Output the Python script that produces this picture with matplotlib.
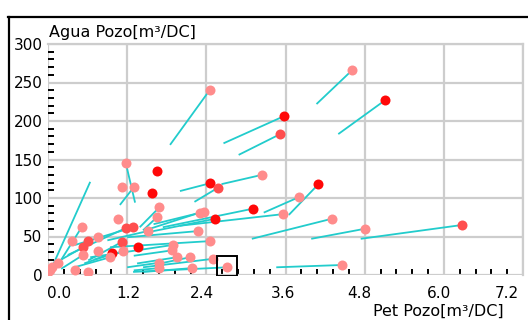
import matplotlib
matplotlib.use("Agg")
import matplotlib.pyplot as plt
from matplotlib.lines import Line2D
from matplotlib.ticker import MultipleLocator
import matplotlib.transforms as mtrans

# ---- data: current (x, y), previous (x, y), shade level (0 light .. 2 red)
x_now = [2.45, 3.57, 3.52, 4.61, 5.11, 3.24, 4.10, 3.80, 3.10, 3.56, 4.30, 4.80, 6.28, 4.46,
         1.18, 1.65, 1.12, 1.30, 1.57, 1.69, 1.65, 1.06, 1.18, 1.29, 1.51, 0.51,
         0.36, 0.61, 0.53, 0.76, 1.12, 1.36, 0.97, 0.94, 0.76, 0.53, 1.14,
         0.06, 0.15, 0.03, 0.41, 0.61, 1.89, 1.88, 1.95, 2.15, 1.69, 1.69, 2.19,
         2.50, 2.72, 2.45, 2.27, 2.30, 2.36, 2.53, 2.45, 2.57, 0.00]
y_now = [240, 206, 183, 266, 227, 130, 118, 101, 86, 79, 73, 60, 65, 13,
         145, 135, 114, 114, 106, 88, 75, 73, 61, 62, 57, 62,
         44, 44, 36, 49, 43, 36, 28, 23, 31, 26, 31,
         10, 15, 6, 6, 4, 39, 32, 23, 23, 16, 9, 9,
         21, 10, 44, 57, 81, 82, 73, 119, 113, 4]
x_prev = [1.85, 2.66, 2.89, 4.07, 4.40, 2.63, 3.65, 3.27, 1.74, 2.00, 3.09, 3.99, 4.74, 3.46,
          1.32, 1.65, 1.12, 1.09, 1.57, 1.39, 1.44, 1.06, 0.30, 0.41, 0.90, 0.18,
          0.36, 0.61, 0.20, 0.76, 0.61, 1.36, 0.55, 0.40, 0.76, 0.20, 0.70,
          0.64, 0.15, 0.03, 0.41, 0.61, 0.64, 1.30, 1.35, 1.70, 1.20, 1.30, 1.45,
          1.44, 1.29, 0.94, 1.20, 1.47, 1.60, 1.54, 2.00, 2.22, 0.00]
y_prev = [169, 171, 156, 222, 183, 118, 78, 81, 62, 64, 47, 47, 47, 10,
          94, 135, 114, 91, 106, 62, 58, 73, 26, 39, 45, 17,
          44, 44, 20, 49, 19, 36, 15, 10, 31, 8, 20,
          121, 15, 6, 6, 4, 23, 25, 15, 15, 10, 6, 4,
          10, 4, 36, 49, 58, 66, 56, 109, 95, 4]
shade = [0, 2, 1, 0, 2, 0, 2, 0, 2, 0, 0, 0, 1, 0,
         0, 2, 0, 0, 2, 0, 0, 0, 1, 1, 0, 0,
         0, 1, 1, 0, 1, 2, 2, 0, 0, 0, 0,
         0, 0, 0, 0, 0, 0, 0, 0, 0, 0, 0, 0,
         0, 0, 0, 0, 0, 0, 2, 2, 1, 0]
sel_x = [2.72]
sel_y = [12]

x_ticks = [0.0, 1.2, 2.4, 3.6, 4.8, 6.0, 7.2]
x_tick_labels = ["0.0", "1.2", "2.4", "3.6", "4.8", "6.0", "7.2"]
y_ticks = [0, 50, 100, 150, 200, 250, 300]
y_tick_labels = ["0", "50", "100", "150", "200", "250", "300"]

shade_colors = ["#FF8C8C", "#FF4E4E", "#FF0808"]
line_color = "#22CCCC"

W, H = 528, 320
fig = plt.figure(figsize=(W / 100, H / 100), dpi=100)
ax = fig.add_axes([48 / W, 1 - 275 / H, (523 - 48) / W, (275 - 44) / H])

for xp, yp, xn, yn in zip(x_prev, y_prev, x_now, y_now):
    ax.plot([xp, xn], [yp, yn], color=line_color, lw=1.3, zorder=2, solid_capstyle="butt")

for xn, yn, s in zip(x_now, y_now, shade):
    ax.plot([xn], [yn], "o", ms=7.2, mec="none", mfc=shade_colors[s], zorder=3)

ax.plot(sel_x, sel_y, "s", ms=15, mfc="none", mec="black", mew=1.4, zorder=4)

ax.set_xlim(0, 7.2)
ax.set_ylim(0, 300)
ax.set_xticks(x_ticks)
ax.set_xticklabels(x_tick_labels)
ax.set_yticks(y_ticks)
ax.set_yticklabels(y_tick_labels)
ax.xaxis.set_minor_locator(MultipleLocator(0.24))
ax.yaxis.set_minor_locator(MultipleLocator(10))

ax.tick_params(axis="both", which="major", length=0, labelsize=11, colors="black")
ax.tick_params(axis="x", which="major", pad=8)
ax.tick_params(axis="y", which="major", pad=4)
ax.tick_params(axis="both", which="minor", direction="in", length=4.5, width=1.4, color="black")

ax.grid(True, which="major", color="#CDCDCD", lw=1.6, zorder=0)
ax.set_axisbelow(True)
for side in ["left", "bottom"]:
    ax.spines[side].set_visible(False)
for side in ["top", "right"]:
    ax.spines[side].set_color("#CDCDCD")
    ax.spines[side].set_linewidth(1.6)

# shift x tick labels as in the reference
offsets_px = [11, 1, -4, -3, -5, -5, -16]
for lab, dx in zip(ax.get_xticklabels(), offsets_px):
    lab.set_transform(lab.get_transform() + mtrans.ScaledTranslation(dx / 100, 0, fig.dpi_scale_trans))

fig.text(49 / W, 1 - 37 / H, "Agua Pozo[m³/DC]", fontsize=11.5, ha="left", va="baseline")
fig.text(373 / W, 1 - 316 / H, "Pet Pozo[m³/DC]", fontsize=11.5, ha="left", va="baseline")

# outer frame (extends beyond the image on right/bottom)
fig.add_artist(Line2D([8 / W, 1.0], [1 - 17 / H, 1 - 17 / H], color="black", lw=1.6, transform=fig.transFigure))
fig.add_artist(Line2D([9 / W, 9 / W], [1 - 17 / H, 0.0], color="black", lw=1.6, transform=fig.transFigure))

fig.savefig("out.png", dpi=100)
